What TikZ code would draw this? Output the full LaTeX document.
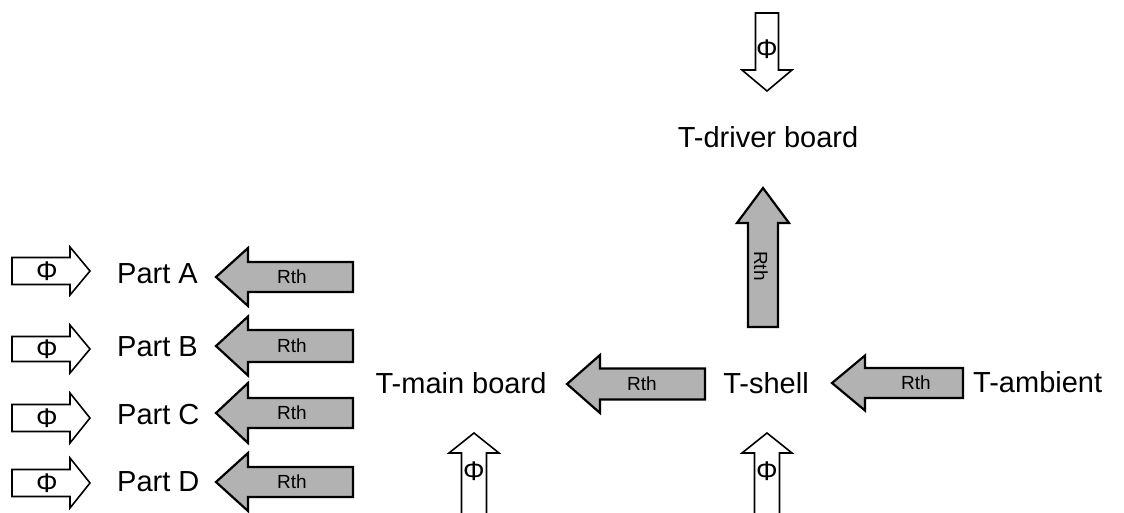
\documentclass[tikz,border=0pt]{standalone}
\usepackage{fontspec}
\setmainfont{Liberation Sans}
\definecolor{rthgray}{HTML}{B2B2B2}
\tikzset{
  rtharrow/.style={draw=black, fill=rthgray, line width=2.2pt, line join=miter},
  phiarrow/.style={draw=black, fill=white, line width=1.6pt, line join=miter},
  lbl/.style={font=\fontsize{29}{32}\selectfont, inner sep=0pt},
  rthlbl/.style={font=\fontsize{19}{22}\selectfont, inner sep=0pt},
  philbl/.style={font=\fontsize{27}{29}\selectfont, inner sep=0pt},
}
% horizontal block arrow: style, tip x, head-base x, tail x, centre y, head half, body half
\newcommand\harr[7]{%
  \draw[#1] (#2,#5) -- (#3,#5-#6) -- (#3,#5-#7) -- (#4,#5-#7) -- (#4,#5+#7)
    -- (#3,#5+#7) -- (#3,#5+#6) -- cycle;}
% vertical block arrow: style, tip y, head-base y, tail y, centre x, head half, body half
\newcommand\varr[7]{%
  \draw[#1] (#5,#2) -- (#5-#6,#3) -- (#5-#7,#3) -- (#5-#7,#4) -- (#5+#7,#4)
    -- (#5+#7,#3) -- (#5+#6,#3) -- cycle;}
\begin{document}
\begin{tikzpicture}[x=1pt,y=-1pt]
\clip (0,0) rectangle (1124,512);
\fill[white] (0,0) rectangle (1124,512);

% left column: Part A..D
\foreach \n/\pc/\rc/\lc/\hp/\bp/\hr/\br in {A/271/277/274/24/13.5/29/15,
                                          B/349/346/347/24/12.5/29.5/16,
                                          C/418/413/415/25/13.5/30/15,
                                          D/483/482/482/25/13.5/29/15}{
  \harr{phiarrow}{90}{70}{12}{\pc}{\hp}{\bp}
  \node[philbl] (phi\n) at (47,\pc) {Φ};
  \harr{rtharrow}{216}{248}{353}{\rc}{\hr}{\br}
  \node[rthlbl] (rth\n) at (292,\rc) {Rth};
  \node[lbl, anchor=west] (part\n) at (117,\lc) {Part \n};
}

% main chain
\node[lbl] (tmain) at (461,383) {T-main board};
\node[lbl] (tshell) at (766,383) {T-shell};
\node[lbl, anchor=west] (tamb) at (973,382) {T-ambient};
\node[lbl] (tdriver) at (768,137) {T-driver board};

\harr{rtharrow}{567}{600}{705}{384}{29}{15.5}
\node[rthlbl] (rthmain) at (642,384) {Rth};
\harr{rtharrow}{832}{865}{963}{383}{27.5}{15}
\node[rthlbl] (rthamb) at (916,383) {Rth};
\varr{rtharrow}{188}{223}{327}{763}{26}{15}
\node[rthlbl, rotate=-90] (rthdrv) at (761,266) {Rth};

% heat flow arrows
\varr{phiarrow}{91}{70}{13}{767}{25}{11.5}
\node[philbl] (phidrv) at (767,49) {Φ};
\varr{phiarrow}{433}{453}{530}{474}{25}{12.5}
\node[philbl] (phimain) at (474,471) {Φ};
\varr{phiarrow}{433}{453}{530}{767}{25}{12.5}
\node[philbl] (phishell) at (767,471) {Φ};
\end{tikzpicture}
\end{document}
